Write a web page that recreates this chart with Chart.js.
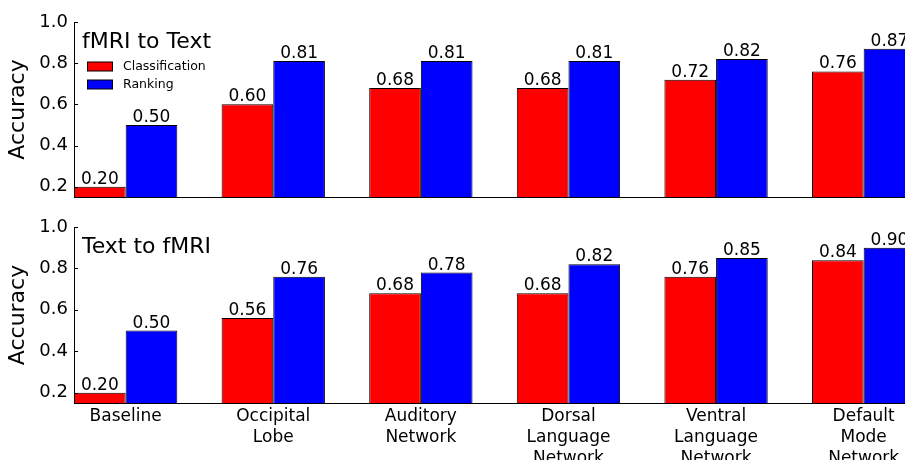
<!DOCTYPE html>
<html lang="en">
<head>
    <meta charset="UTF-8">
    <title>fMRI / Text accuracy</title>
    <script src="https://cdn.jsdelivr.net/npm/chart.js"></script>
    <style>
        html, body {
            margin: 0;
            padding: 0;
            background: #fff;
            overflow: hidden;
        }
        .panel {
            position: absolute;
            left: 0;
        }
        #topChart { top: 0; }
        #bottomChart { top: 200px; }
    </style>
</head>
<body>
    <canvas id="topChart" class="panel" width="905" height="215"></canvas>
    <canvas id="bottomChart" class="panel" width="905" height="260"></canvas>

    <script>
// data
const categories = [
    'Baseline',
    ['Occipital', 'Lobe'],
    ['Auditory', 'Network'],
    ['Dorsal', 'Language', 'Network'],
    ['Ventral', 'Language', 'Network'],
    ['Default', 'Mode', 'Network']
];
const seriesNames = ['Classification', 'Ranking'];
const fmriToTextClass = [0.20, 0.60, 0.68, 0.68, 0.72, 0.76];
const fmriToTextRank  = [0.50, 0.81, 0.81, 0.81, 0.82, 0.87];
const textToFmriClass = [0.20, 0.56, 0.68, 0.68, 0.76, 0.84];
const textToFmriRank  = [0.50, 0.76, 0.78, 0.82, 0.85, 0.90];
const yTicks = [0.2, 0.4, 0.6, 0.8, 1.0];

const FONT = "'DejaVu Sans', 'Liberation Sans', sans-serif";
const colors = ['#ff0000', '#0000ff'];

// value labels above each bar
const valueLabels = {
    id: 'valueLabels',
    afterDatasetsDraw(chart) {
        const ctx = chart.ctx;
        ctx.save();
        ctx.font = '17px ' + FONT;
        ctx.fillStyle = '#000';
        ctx.textAlign = 'center';
        ctx.textBaseline = 'alphabetic';
        chart.data.datasets.forEach((ds, i) => {
            chart.getDatasetMeta(i).data.forEach((bar, j) => {
                ctx.fillText(ds.data[j].y.toFixed(2), bar.x, bar.y - 3);
            });
        });
        ctx.restore();
    }
};

// matplotlib style inward ticks on the left spine
const inwardTicks = {
    id: 'inwardTicks',
    afterDraw(chart) {
        const ctx = chart.ctx, y = chart.scales.y, left = chart.chartArea.left;
        ctx.save();
        ctx.strokeStyle = '#000';
        ctx.lineWidth = 1;
        y.ticks.forEach(t => {
            const py = Math.round(y.getPixelForValue(t.value)) + 0.5;
            ctx.beginPath();
            ctx.moveTo(left, py);
            ctx.lineTo(left + 4, py);
            ctx.stroke();
        });
        ctx.restore();
    }
};

// panel title and (optional) legend inside the axes
const panelText = {
    id: 'panelText',
    afterDraw(chart, args, opts) {
        const ctx = chart.ctx;
        ctx.save();
        ctx.fillStyle = '#000';
        ctx.textAlign = 'left';
        ctx.textBaseline = 'alphabetic';
        ctx.font = '22px ' + FONT;
        ctx.fillText(opts.title, 82, opts.titleY);
        if (opts.legend) {
            ctx.font = '12.5px ' + FONT;
            ctx.textBaseline = 'middle';
            chart.data.datasets.forEach((ds, i) => {
                const cy = 66.5 + i * 18;
                ctx.fillStyle = ds.backgroundColor;
                ctx.fillRect(87, cy - 4.5, 26, 9);
                ctx.strokeStyle = '#000';
                ctx.lineWidth = 1;
                ctx.strokeRect(87.5, cy - 4.5, 25, 9);
                ctx.fillStyle = '#000';
                ctx.fillText(ds.label, 123, cy + 0.5);
            });
        }
        ctx.restore();
    }
};

function makeChart(id, classVals, rankVals, opts) {
    const datasets = [classVals, rankVals].map((vals, i) => ({
        label: seriesNames[i],
        data: vals.map((v, j) => ({ x: j, y: v })),
        backgroundColor: colors[i],
        borderColor: '#000',
        borderWidth: 1,
        borderSkipped: 'bottom',
        categoryPercentage: 0.7,
        barPercentage: 1.0
    }));

    return new Chart(document.getElementById(id), {
        type: 'bar',
        data: { datasets: datasets },
        options: {
            responsive: false,
            animation: false,
            devicePixelRatio: 1,
            layout: { padding: { top: opts.padTop, left: 0, right: 0, bottom: 0 } },
            plugins: {
                legend: { display: false },
                tooltip: { enabled: false },
                panelText: { title: opts.title, titleY: opts.titleY, legend: opts.legend }
            },
            scales: {
                x: {
                    type: 'linear',
                    offset: false,
                    min: -0.35,
                    max: 5.28,
                    afterBuildTicks: s => { s.ticks = categories.map((c, i) => ({ value: i })); },
                    afterFit: s => { s.height = opts.xHeight; },
                    grid: { display: false, drawTicks: false },
                    border: { display: true, color: '#000', width: 1 },
                    ticks: {
                        display: opts.showLabels,
                        autoSkip: false,
                        maxRotation: 0,
                        padding: 3,
                        color: '#000',
                        font: { family: FONT, size: 17, lineHeight: 1.24 },
                        callback: v => categories[v]
                    }
                },
                y: {
                    min: 0.15,
                    max: 1.0,
                    afterBuildTicks: s => { s.ticks = yTicks.map(v => ({ value: v })); },
                    afterFit: s => { s.width = 74; },
                    grid: { display: false, drawTicks: false },
                    border: { display: true, color: '#000', width: 1 },
                    ticks: {
                        padding: 6,
                        color: '#000',
                        font: { family: FONT, size: 18 },
                        callback: v => v.toFixed(1)
                    },
                    title: {
                        display: true,
                        text: 'Accuracy',
                        color: '#000',
                        font: { family: FONT, size: 22 },
                        padding: { top: 5, bottom: 0 }
                    }
                }
            }
        },
        plugins: [valueLabels, inwardTicks, panelText]
    });
}

makeChart('topChart', fmriToTextClass, fmriToTextRank,
    { padTop: 22, xHeight: 18, showLabels: false, title: 'fMRI to Text', titleY: 48, legend: true });
makeChart('bottomChart', textToFmriClass, textToFmriRank,
    { padTop: 27, xHeight: 57, showLabels: true, title: 'Text to fMRI', titleY: 53, legend: false });
    </script>
</body>
</html>
